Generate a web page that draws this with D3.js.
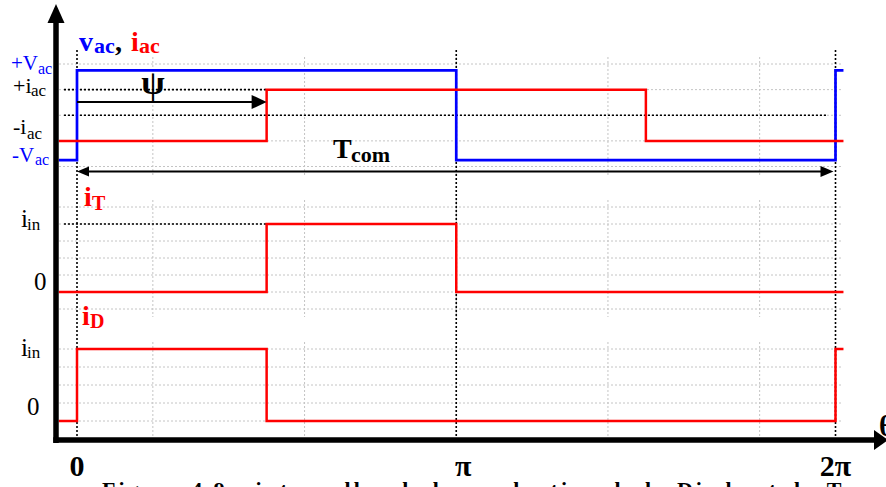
<!DOCTYPE html>
<html><head><meta charset="utf-8">
<script src="https://cdn.jsdelivr.net/npm/d3@7"></script>
<style>
html,body{margin:0;padding:0;background:#fff;overflow:hidden;}
svg{display:block;font-family:"Liberation Serif","Times New Roman",serif;}
</style></head>
<body>
<svg id="chart" width="886" height="487"></svg>
<script>
// ---- data (theta in units of pi) ----
const thetaStart = -0.048, thetaEnd = 2.021;
const xTickValues = [0, 1, 2];
const xTickLabels = ["0", "π", "2π"];
const gridTheta = [0.2, 0.6, 1.0, 1.4, 1.8];

// top panel: v_ac and i_ac (grid units)
const vacTheta = [thetaStart, 0, 1, 2, thetaEnd];
const vacValue = [-1.75, 1.75, -1.75, 1.75, 1.75];
const iacTheta = [thetaStart, 0.5, 1.5, thetaEnd];
const iacValue = [-1, 1, -1, -1];
const topGrid = [-2, -1, 0, 1, 2];
const psi = 0.5;

// middle panel: i_T
const iTTheta = [thetaStart, 0.5, 1, thetaEnd];
const iTValue = [0, 4, 0, 0];
const midGrid = [-1, 0, 1, 2, 3, 4, 5];

// bottom panel: i_D
const iDTheta = [thetaStart, 0, 0.5, 2, thetaEnd];
const iDValue = [0, 4, 0, 4, 4];
const botGrid = [0, 1, 2, 3, 4];

const caption = "Figure 4.9 : intervalles de la conduction de la Diode et du Transistor";

// ---- scales ----
const svg = d3.select("#chart");
const x = d3.scaleLinear().domain([0, 2]).range([77, 835.5]);
const yTop = d3.scaleLinear().domain([-2, 2]).range([166.5, 64]);
const yMid = d3.scaleLinear().domain([-1, 5]).range([309, 207]);
const yBot = d3.scaleLinear().domain([0, 4]).range([421, 349]);

const gridColor = "#c4c4c4";
const xL = 59, xR = 842;

function gridPanel(yScale, vals, vTop, vBot) {
  const g = svg.append("g");
  g.selectAll("line.h").data(vals).join("line")
    .attr("x1", xL).attr("x2", xR)
    .attr("y1", d => yScale(d)).attr("y2", d => yScale(d))
    .attr("stroke", gridColor).attr("stroke-width", 1).attr("stroke-dasharray", "2,2");
  g.selectAll("line.v").data(gridTheta).join("line")
    .attr("x1", d => x(d)).attr("x2", d => x(d))
    .attr("y1", vTop).attr("y2", vBot)
    .attr("stroke", gridColor).attr("stroke-width", 1).attr("stroke-dasharray", "2,2");
}
gridPanel(yTop, topGrid, 57, 175);
gridPanel(yMid, midGrid, 200, 317);
gridPanel(yBot, botGrid, 342, 438);

// black dotted references
const dot = "2,2";
svg.selectAll("line.vref").data(xTickValues).join("line")
  .attr("x1", d => x(d)).attr("x2", d => x(d))
  .attr("y1", 50).attr("y2", 440)
  .attr("stroke", "#000").attr("stroke-width", 1.6).attr("stroke-dasharray", dot);
svg.append("line").attr("x1", 64).attr("x2", x(psi)).attr("y1", yTop(1)).attr("y2", yTop(1))
  .attr("stroke", "#000").attr("stroke-width", 1.6).attr("stroke-dasharray", dot);
svg.append("line").attr("x1", 64).attr("x2", 828).attr("y1", yTop(0)).attr("y2", yTop(0))
  .attr("stroke", "#000").attr("stroke-width", 1.6).attr("stroke-dasharray", dot);
svg.append("line").attr("x1", 64).attr("x2", x(psi)).attr("y1", yMid(4)).attr("y2", yMid(4))
  .attr("stroke", "#000").attr("stroke-width", 1.6).attr("stroke-dasharray", dot);

// waveforms
function wave(th, vals, yScale, color, w) {
  const pts = th.map((t, i) => [x(t), yScale(vals[i])]);
  const line = d3.line().curve(d3.curveStepAfter);
  svg.append("path").attr("d", line(pts)).attr("fill", "none")
    .attr("stroke", color).attr("stroke-width", w).attr("stroke-linejoin", "miter");
}
wave(vacTheta, vacValue, yTop, "#0000ff", 2.7);
wave(iacTheta, iacValue, yTop, "#ff0000", 2.5);
wave(iTTheta, iTValue, yMid, "#ff0000", 2.5);
wave(iDTheta, iDValue, yBot, "#ff0000", 2.5);

// arrows
const psiY = 102;
svg.append("line").attr("x1", x(0)).attr("x2", x(psi) - 12).attr("y1", psiY).attr("y2", psiY)
  .attr("stroke", "#000").attr("stroke-width", 2);
svg.append("path").attr("d", `M${x(psi)},${psiY} L${x(psi) - 15},${psiY - 7} L${x(psi) - 15},${psiY + 7} Z`).attr("fill", "#000");

const tY = 171.5;
svg.append("line").attr("x1", x(0) + 8).attr("x2", x(2) - 10).attr("y1", tY).attr("y2", tY)
  .attr("stroke", "#000").attr("stroke-width", 2);
svg.append("path").attr("d", `M${x(0)},${tY} L${x(0) + 12},${tY - 5} L${x(0) + 12},${tY + 5} Z`).attr("fill", "#000");
svg.append("path").attr("d", `M${x(2) - 2},${tY} L${x(2) - 15},${tY - 5.5} L${x(2) - 15},${tY + 5.5} Z`).attr("fill", "#000");

// axes
svg.append("line").attr("x1", 56).attr("x2", 56).attr("y1", 18).attr("y2", 443)
  .attr("stroke", "#000").attr("stroke-width", 5.5);
svg.append("path").attr("d", "M56,4 L47.5,23 L64.5,23 Z").attr("fill", "#000");
svg.append("line").attr("x1", 53.3).attr("x2", 878).attr("y1", 440).attr("y2", 440)
  .attr("stroke", "#000").attr("stroke-width", 5.5);
svg.append("path").attr("d", "M888,440 L874,430 L874,450 Z").attr("fill", "#000");

// x tick labels
svg.selectAll("text.xt").data(xTickValues).join("text")
  .attr("x", (d, i) => x(d) + [0, 7, 0][i]).attr("y", 476)
  .attr("text-anchor", "middle").attr("font-weight", "bold").attr("font-size", 30)
  .text((d, i) => xTickLabels[i]);
svg.append("text").attr("x", 879).attr("y", 436).attr("font-weight", "bold").attr("font-size", 29).text("θ");

// generic label helper: parts = [[text, x, y, size, color, weight]]
function label(parts) {
  const t = svg.append("text");
  parts.forEach(p => {
    t.append("tspan").attr("x", p[1]).attr("y", p[2]).attr("font-size", p[3])
      .attr("fill", p[4]).attr("font-weight", p[5] || "normal").text(p[0]);
  });
}
// panel titles
label([["v", 79, 51, 28, "#0000ff", "bold"], ["ac", 94, 53, 22, "#0000ff", "bold"],
       [",", 115, 51, 28, "#000", "bold"], ["i", 131, 51, 28, "#ff0000", "bold"], ["ac", 139, 53, 22, "#ff0000", "bold"]]);
label([["i", 84, 206, 28, "#ff0000", "bold"], ["T", 92, 210, 20, "#ff0000", "bold"]]);
label([["i", 82, 325, 28, "#ff0000", "bold"], ["D", 90, 328, 20, "#ff0000", "bold"]]);
// symbols
svg.append("text").attr("x", 153).attr("y", 94).attr("text-anchor", "middle")
  .attr("font-weight", "bold").attr("font-size", 34).text("ψ");
label([["T", 333, 158, 28, "#000", "bold"], ["com", 351, 162, 22, "#000", "bold"]]);

// y-level labels
label([["+V", 11, 70, 21, "#0000ff"], ["ac", 38, 74, 16, "#0000ff"]]);
label([["+i", 13, 93, 22, "#000"], ["ac", 31, 96, 17, "#000"]]);
label([["-i", 13, 134, 22, "#000"], ["ac", 27, 139, 17, "#000"]]);
label([["-V", 12, 162, 21, "#0000ff"], ["ac", 35, 165, 16, "#0000ff"]]);
label([["i", 21, 227, 25, "#000"], ["in", 27, 230, 17, "#000"]]);
label([["0", 34, 290, 25, "#000"]]);
label([["i", 21, 356, 25, "#000"], ["in", 27, 358, 17, "#000"]]);
label([["0", 27, 415, 25, "#000"]]);

// caption (cut by bottom edge)
svg.append("text").attr("x", 102).attr("y", 497).attr("font-weight", "bold").attr("font-size", 22)
  .attr("textLength", 850).attr("lengthAdjust", "spacing").text(caption);
</script>
</body></html>
